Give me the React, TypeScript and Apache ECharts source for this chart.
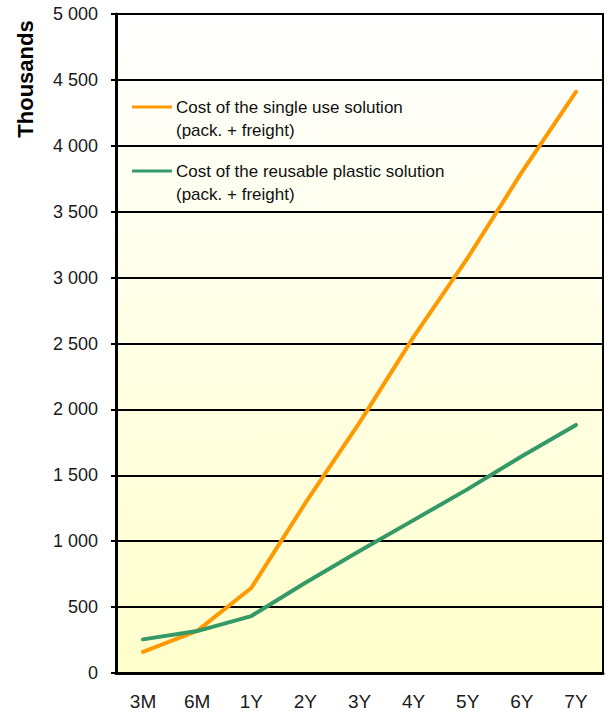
import React, { useEffect, useRef } from "react";
import * as echarts from "echarts";

const categories = ["3M", "6M", "1Y", "2Y", "3Y", "4Y", "5Y", "6Y", "7Y"];
const singleUse = [160, 320, 645, 1290, 1900, 2550, 3150, 3800, 4410];
const reusable = [255, 318, 432, 685, 925, 1160, 1395, 1645, 1882];
const seriesNames = [
  "Cost of the single use solution\n(pack. + freight)",
  "Cost of the reusable plastic solution\n(pack. + freight)",
];
const seriesColors = ["#FF9900", "#339966"];
const yAxisTitle = "Thousands";

const FONT = '"Liberation Sans", Arial, sans-serif';

export default function App() {
  const ref = useRef<HTMLDivElement>(null);
  useEffect(() => {
    if (!ref.current) return;
    const chart = echarts.init(ref.current, undefined, { renderer: "svg" });
    const fmt = (v: number) => {
      const s = String(v);
      return s.length > 3 ? s.slice(0, s.length - 3) + " " + s.slice(-3) : s;
    };
    chart.setOption({
      animation: false,
      backgroundColor: "#ffffff",
      textStyle: { fontFamily: FONT },
      grid: {
        left: 116,
        right: 6,
        top: 14,
        bottom: 40,
        show: true,
        borderColor: "#000",
        borderWidth: 2,
        backgroundColor: new echarts.graphic.LinearGradient(0, 0, 0, 1, [
          { offset: 0, color: "#ffffff" },
          { offset: 1, color: "#ffffcc" },
        ]),
      },
      xAxis: {
        type: "category",
        data: categories,
        boundaryGap: true,
        axisLine: { show: true, lineStyle: { color: "#000", width: 3 } },
        axisTick: { show: false },
        axisLabel: { color: "#1a1a1a", fontSize: 19, margin: 19, fontFamily: FONT },
        splitLine: { show: false },
      },
      yAxis: {
        type: "value",
        min: 0,
        max: 5000,
        interval: 500,
        axisLine: { show: true, lineStyle: { color: "#000", width: 3 } },
        axisTick: { show: true, length: 5, lineStyle: { color: "#000", width: 2 } },
        axisLabel: {
          color: "#1a1a1a",
          fontSize: 18,
          margin: 18,
          fontFamily: FONT,
          formatter: fmt,
        },
        splitLine: { show: true, lineStyle: { color: "#000", width: 2 } },
      },
      series: [
        {
          type: "line",
          name: seriesNames[0],
          data: singleUse,
          symbol: "none",
          lineStyle: { color: seriesColors[0], width: 4, cap: "round", join: "round" },
          itemStyle: { color: seriesColors[0] },
          z: 3,
        },
        {
          type: "line",
          name: seriesNames[1],
          data: reusable,
          symbol: "none",
          lineStyle: { color: seriesColors[1], width: 4, cap: "round", join: "round" },
          itemStyle: { color: seriesColors[1] },
          z: 4,
        },
      ],
      graphic: [
        {
          type: "text",
          x: 25,
          y: 79,
          rotation: Math.PI / 2,
          style: {
            text: yAxisTitle,
            font: `bold 22px ${FONT}`,
            fill: "#000",
            textAlign: "center",
            textVerticalAlign: "middle",
          },
        },
        ...seriesNames.flatMap((name, i) => {
          const y = 107 + i * 64;
          return [
            {
              type: "line",
              shape: { x1: 132, y1: y, x2: 172, y2: y },
              style: { stroke: seriesColors[i], lineWidth: 3 },
              z: 10,
            },
            {
              type: "text",
              x: 176,
              y: y - 11.5,
              z: 10,
              style: {
                text: name,
                font: `17px ${FONT}`,
                lineHeight: 23,
                fill: "#111",
                textAlign: "left",
                textVerticalAlign: "top",
              },
            },
          ];
        }),
      ],
    });
    return () => chart.dispose();
  }, []);
  return (
    <div
      ref={ref}
      style={{ position: "fixed", left: 0, top: 0, width: 609, height: 713 }}
    />
  );
}
